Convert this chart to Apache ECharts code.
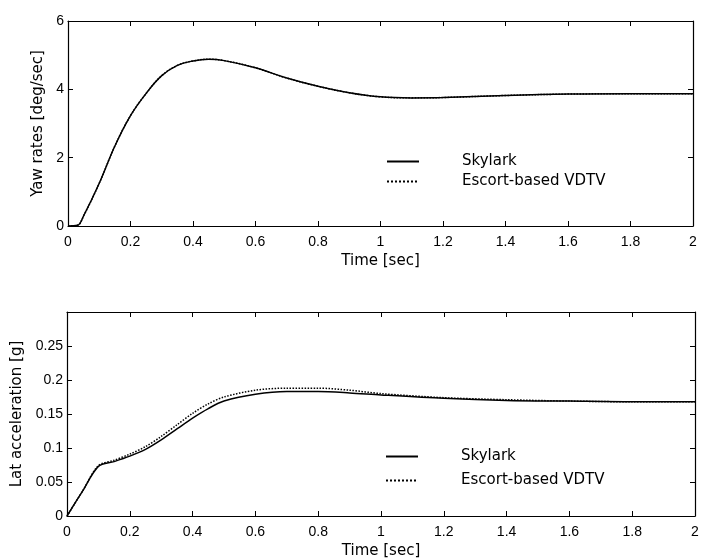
<!DOCTYPE html>
<html>
<head>
<meta charset="utf-8">
<script src="https://cdn.jsdelivr.net/npm/echarts@6/dist/echarts.min.js"></script>
<style>
  html, body { margin: 0; padding: 0; background: #fff; }
  #main { width: 707px; height: 560px; }
</style>
</head>
<body>
<div id="main"></div>
<script>
// top panel: yaw rate
const yawTime = [0, 0.03, 0.05, 0.1, 0.15, 0.2, 0.25, 0.3, 0.35, 0.4, 0.45, 0.5, 0.6, 0.7, 0.8, 0.9, 1.0, 1.1, 1.2, 1.4, 1.6, 1.8, 2.0];
const yawSkylark = [0, 0.02, 0.3, 1.25, 2.34, 3.23, 3.88, 4.4, 4.7, 4.83, 4.88, 4.84, 4.63, 4.33, 4.09, 3.9, 3.78, 3.75, 3.76, 3.82, 3.86, 3.87, 3.87];
const yawEscort = [0, 0.02, 0.3, 1.25, 2.34, 3.23, 3.88, 4.4, 4.7, 4.83, 4.88, 4.84, 4.63, 4.33, 4.09, 3.9, 3.78, 3.75, 3.76, 3.82, 3.86, 3.87, 3.87];

// bottom panel: lateral acceleration
const latTime = [0, 0.05, 0.1, 0.15, 0.2, 0.25, 0.3, 0.35, 0.4, 0.45, 0.5, 0.6, 0.7, 0.8, 0.9, 1.0, 1.2, 1.4, 1.6, 1.8, 2.0];
const latSkylark = [0, 0.037, 0.073, 0.08, 0.088, 0.098, 0.112, 0.128, 0.144, 0.158, 0.169, 0.179, 0.183, 0.183, 0.181, 0.178, 0.173, 0.170, 0.169, 0.168, 0.168];
const latEscort = [0, 0.037, 0.074, 0.082, 0.091, 0.102, 0.117, 0.134, 0.151, 0.165, 0.175, 0.185, 0.188, 0.188, 0.185, 0.180, 0.174, 0.171, 0.169, 0.168, 0.168];

const seriesNames = ['Skylark', 'Escort-based VDTV'];
const xLabel = 'Time [sec]';

function pairs(xs, ys) {
  return xs.map(function (x, i) { return [x, ys[i]]; });
}

const tickFont = 'Liberation Sans, Arial, sans-serif';
const font = 'DejaVu Sans, sans-serif';
const tickIn = { show: true, inside: true, length: 5, lineStyle: { color: '#000' } };
const line = { show: true, onZero: false, lineStyle: { color: '#000', width: 1.2 } };
const nameStyle = { color: '#000', fontSize: 15, fontFamily: font };
const tickStyle = { color: '#000', fontSize: 14, fontFamily: tickFont };

function xAxes(grid) {
  return [{
    type: 'value', gridIndex: grid, min: 0, max: 2, interval: 0.2,
    axisLine: line, axisTick: tickIn, splitLine: { show: false },
    axisLabel: Object.assign({ margin: 9 }, tickStyle),
    name: xLabel, nameLocation: 'middle', nameGap: 28,
    nameTextStyle: nameStyle
  }, {
    type: 'value', gridIndex: grid, min: 0, max: 2, interval: 0.2, position: 'top',
    axisLine: line, axisTick: tickIn, axisLabel: { show: false }, splitLine: { show: false }
  }];
}

function legendAt(names, left, top, gap) {
  return {
    data: names,
    orient: 'vertical',
    left: left, top: top,
    itemWidth: 32, itemHeight: 10, itemGap: gap,
    itemStyle: { color: 'rgba(0,0,0,0)', borderWidth: 0 },
    formatter: function (n) { return n.trim(); },
    textStyle: { color: '#000', fontSize: 15, fontFamily: font, padding: [0, 0, 0, 38] }
  };
}

let chart = echarts.init(document.getElementById('main'));
chart.setOption({
  animation: false,
  backgroundColor: '#fff',
  grid: [
    { left: 68, right: 14, top: 21, bottom: 334 },
    { left: 67, right: 12, top: 312, bottom: 43 }
  ],
  legend: [
    legendAt(seriesNames, 381, 149, 5),
    legendAt(seriesNames.map(function (n) { return n + ' '; }), 380, 444, 9)
  ],
  xAxis: xAxes(0).concat(xAxes(1)),
  yAxis: [{
    type: 'value', gridIndex: 0, min: 0, max: 6, interval: 2,
    axisLine: line, axisTick: tickIn, splitLine: { show: false },
    axisLabel: Object.assign({ margin: 4 }, tickStyle),
    name: 'Yaw rates [deg/sec]', nameLocation: 'middle', nameGap: 18,
    nameTextStyle: nameStyle
  }, {
    type: 'value', gridIndex: 0, min: 0, max: 6, interval: 2, position: 'right',
    axisLine: line, axisTick: tickIn, axisLabel: { show: false }, splitLine: { show: false }
  }, {
    type: 'value', gridIndex: 1, min: 0, max: 0.3, interval: 0.05,
    axisLine: line, axisTick: tickIn, splitLine: { show: false },
    axisLabel: Object.assign({ margin: 4, showMaxLabel: false }, tickStyle),
    name: 'Lat acceleration [g]', nameLocation: 'middle', nameGap: 37,
    nameTextStyle: nameStyle
  }, {
    type: 'value', gridIndex: 1, min: 0, max: 0.3, interval: 0.05, position: 'right',
    axisLine: line, axisTick: tickIn, axisLabel: { show: false }, splitLine: { show: false }
  }],
  series: [{
    name: seriesNames[0], type: 'line', xAxisIndex: 0, yAxisIndex: 0,
    showSymbol: false, symbol: 'none', smooth: 0.4, color: '#000',
    lineStyle: { color: '#000', width: 1.5 },
    data: pairs(yawTime, yawSkylark)
  }, {
    name: seriesNames[1], type: 'line', xAxisIndex: 0, yAxisIndex: 0,
    showSymbol: false, symbol: 'none', smooth: 0.4, color: '#000',
    lineStyle: { color: '#000', width: 1.5, type: 'dotted' },
    data: pairs(yawTime, yawEscort)
  }, {
    name: seriesNames[0] + ' ', type: 'line', xAxisIndex: 2, yAxisIndex: 2,
    showSymbol: false, symbol: 'none', smooth: 0.3, color: '#000',
    lineStyle: { color: '#000', width: 1.5 },
    data: pairs(latTime, latSkylark)
  }, {
    name: seriesNames[1] + ' ', type: 'line', xAxisIndex: 2, yAxisIndex: 2,
    showSymbol: false, symbol: 'none', smooth: 0.3, color: '#000',
    lineStyle: { color: '#000', width: 1.5, type: 'dotted' },
    data: pairs(latTime, latEscort)
  }]
});
</script>
</body>
</html>
